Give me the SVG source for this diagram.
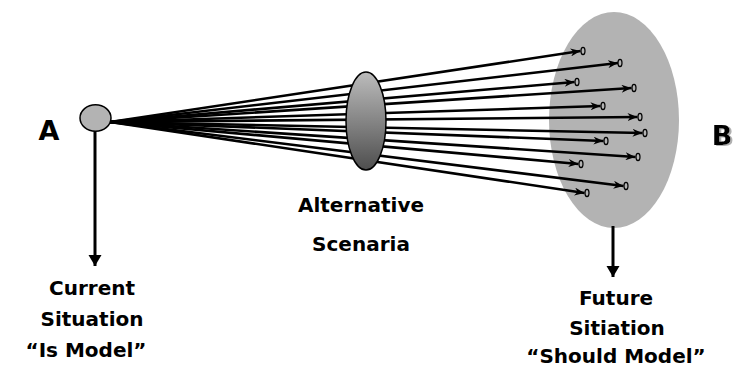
<svg xmlns="http://www.w3.org/2000/svg" width="733" height="371" viewBox="0 0 733 371">
<style>
.t{font-family:"DejaVu Sans","Liberation Sans",sans-serif;font-weight:bold;fill:#000;text-anchor:middle}
.lbl{font-size:20px}
.big{font-size:27px}
.fan{stroke:#000;stroke-width:2.6;fill:none;marker-end:url(#ah)}
.down{stroke:#000;stroke-width:3;fill:none;marker-end:url(#dh)}
.end{fill:#b3b3b3;stroke:#000;stroke-width:1.2}
</style>
<defs>
<marker id="ah" markerUnits="userSpaceOnUse" markerWidth="12" markerHeight="8" refX="10" refY="4" orient="auto">
<path d="M0,0 L10,4 L0,8 L3,4 Z" fill="#000"/>
</marker>
<marker id="dh" markerUnits="userSpaceOnUse" markerWidth="13" markerHeight="14" refX="11" refY="6.5" orient="auto">
<path d="M0,0 L11,6.5 L0,13 Z" fill="#000"/>
</marker>
<linearGradient id="lensg" x1="0" y1="0" x2="0" y2="1">
<stop offset="0" stop-color="#bcbcbc"/>
<stop offset="1" stop-color="#4e4e4e"/>
</linearGradient>
<filter id="sh" x="-30%" y="-30%" width="160%" height="160%">
<feDropShadow dx="2" dy="1" stdDeviation="0.4" flood-color="#b0b0b0" flood-opacity="1"/>
</filter>
</defs>

<g id="future">
<ellipse cx="614" cy="120" rx="65" ry="108" fill="#b3b3b3"/>
<text class="t big" x="722" y="145" filter="url(#sh)">B</text>
</g>

<g id="connectors">
<line class="fan" x1="110" y1="122" x2="580.5" y2="51"/>
<line class="fan" x1="110" y1="122" x2="618" y2="63"/>
<line class="fan" x1="110" y1="122" x2="574.5" y2="82"/>
<line class="fan" x1="110" y1="122" x2="631.5" y2="88"/>
<line class="fan" x1="110" y1="122" x2="600.5" y2="106"/>
<line class="fan" x1="110" y1="122" x2="637.5" y2="117"/>
<line class="fan" x1="110" y1="122" x2="642.5" y2="133"/>
<line class="fan" x1="110" y1="122" x2="603.5" y2="141"/>
<line class="fan" x1="110" y1="122" x2="635.5" y2="157"/>
<line class="fan" x1="110" y1="122" x2="578.5" y2="164"/>
<line class="fan" x1="110" y1="122" x2="623.5" y2="186"/>
<line class="fan" x1="110" y1="122" x2="584.5" y2="193"/>
<ellipse class="end" cx="583" cy="51" rx="2" ry="3.6"/>
<ellipse class="end" cx="620" cy="63" rx="2" ry="3.6"/>
<ellipse class="end" cx="577" cy="82" rx="2" ry="3.6"/>
<ellipse class="end" cx="634" cy="88" rx="2" ry="3.6"/>
<ellipse class="end" cx="603" cy="106" rx="2" ry="3.6"/>
<ellipse class="end" cx="640" cy="117" rx="2" ry="3.6"/>
<ellipse class="end" cx="645" cy="133" rx="2" ry="3.6"/>
<ellipse class="end" cx="606" cy="141" rx="2" ry="3.6"/>
<ellipse class="end" cx="638" cy="157" rx="2" ry="3.6"/>
<ellipse class="end" cx="581" cy="164" rx="2" ry="3.6"/>
<ellipse class="end" cx="626" cy="186" rx="2" ry="3.6"/>
<ellipse class="end" cx="587" cy="193" rx="2" ry="3.6"/>
<line class="down" x1="95" y1="128" x2="95" y2="266"/>
<line class="down" x1="613" y1="226" x2="613" y2="277"/>
</g>

<g id="alternatives">
<ellipse cx="366" cy="121" rx="20" ry="49" fill="url(#lensg)" stroke="#000" stroke-width="1.5"/>
<text class="t lbl" x="361" y="212">Alternative</text>
<text class="t lbl" x="361" y="251">Scenaria</text>
</g>

<g id="current">
<ellipse cx="95.5" cy="118" rx="15.5" ry="13.3" fill="#b3b3b3" stroke="#000" stroke-width="1.5"/>
<text class="t big" x="49" y="140">A</text>
</g>

<g id="current-label">
<text class="t lbl" x="92" y="295">Current</text>
<text class="t lbl" x="92" y="326">Situation</text>
<text class="t lbl" x="86" y="357">“Is Model”</text>
</g>

<g id="future-label">
<text class="t lbl" x="616" y="305">Future</text>
<text class="t lbl" x="617" y="335">Sitiation</text>
<text class="t lbl" x="616" y="363">“Should Model”</text>
</g>
</svg>
